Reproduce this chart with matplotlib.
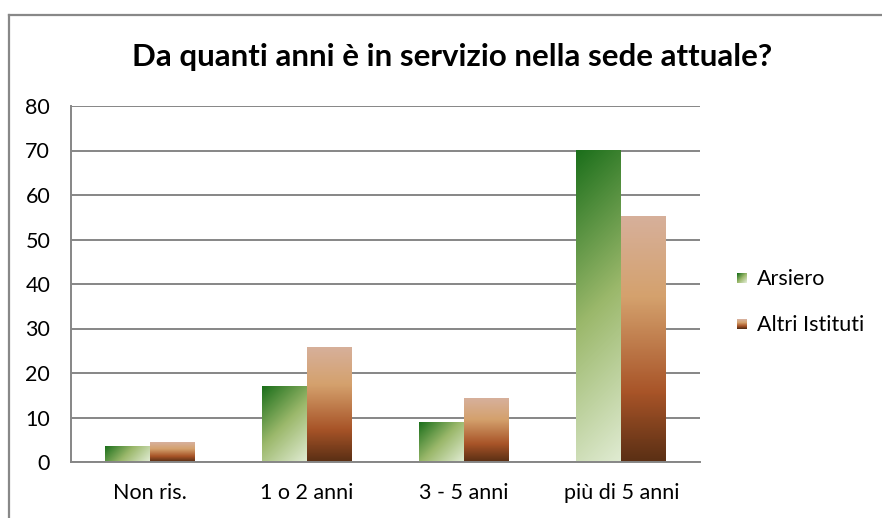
import numpy as np
import matplotlib
matplotlib.use("Agg")
import matplotlib.pyplot as plt
from matplotlib.colors import LinearSegmentedColormap

plt.rcParams['font.family'] = ['Lato', 'DejaVu Sans']

# dati
categorie = ["Non ris.", "1 o 2 anni", "3 - 5 anni", "più di 5 anni"]
arsiero = [3.7, 17.0, 9.1, 70.1]
altri_istituti = [4.4, 25.9, 14.3, 55.3]
serie = ["Arsiero", "Altri Istituti"]
titolo = "Da quanti anni è in servizio nella sede attuale?"

# sfumature stile Excel
cm_verde = LinearSegmentedColormap.from_list(
    "verde", [(0, "#1b6f1b"), (0.5, "#9bb86b"), (1, "#e0ebd2")])
cm_arancio = LinearSegmentedColormap.from_list(
    "arancio", [(0, "#d7b09b"), (0.33, "#d4a16d"), (0.72, "#a85428"), (1, "#5a2f14")])


def img_verde(wpx, hpx):
    # gradiente diagonale (in pixel) da alto-sinistra a basso-destra
    xx, yy = np.meshgrid(np.arange(wpx), np.arange(hpx))
    t = (xx + yy) / max(wpx + hpx - 2, 1)
    return cm_verde(t)


def img_arancio(wpx, hpx):
    xx, yy = np.meshgrid(np.arange(wpx), np.arange(hpx))
    t = yy / max(hpx - 1, 1)
    return cm_arancio(t)


fig = plt.figure(figsize=(8.82, 5.18), dpi=100)
ax = fig.add_axes([71 / 882, 1 - 462 / 518, (700 - 71) / 882, (462 - 106) / 518])

x = np.arange(len(categorie))
w = 1 / 3.5
ax.set_xlim(-0.5, len(categorie) - 0.5)
ax.set_ylim(0, 80)

bars_v = ax.bar(x - w / 2, arsiero, w, color="none", linewidth=0)
bars_a = ax.bar(x + w / 2, altri_istituti, w, color="none", linewidth=0)

px_x = ax.transData.transform((1, 0))[0] - ax.transData.transform((0, 0))[0]
px_y = ax.transData.transform((0, 1))[1] - ax.transData.transform((0, 0))[1]

for bars, fn in [(bars_v, img_verde), (bars_a, img_arancio)]:
    for b in bars:
        x0, h = b.get_x(), b.get_height()
        wpx = max(int(round(w * px_x)), 2)
        hpx = max(int(round(h * px_y)), 2)
        im = ax.imshow(fn(wpx, hpx), extent=[x0, x0 + w, 0, h], origin="upper",
                       aspect="auto", interpolation="bilinear", zorder=2)
        im.set_clip_path(b)

ax.set_xlim(-0.5, len(categorie) - 0.5)
ax.set_ylim(0, 80)

ax.set_yticks(range(0, 81, 10))
ax.yaxis.grid(True, color="#868686", linewidth=1.4)
ax.set_axisbelow(True)
ax.set_xticks(x)
ax.set_xticklabels(categorie, fontsize=15.5)
ax.tick_params(axis="x", length=0, pad=15)
ax.tick_params(axis="y", length=0, pad=15, labelsize=15.5)
for s in ["top", "right"]:
    ax.spines[s].set_visible(False)
for s in ["left", "bottom"]:
    ax.spines[s].set_color("#868686")
    ax.spines[s].set_linewidth(1.4)

fig.text(452 / 882, 1 - 57 / 518, titolo, ha="center", va="center",
         fontsize=22.5, fontweight="bold")

# legenda manuale
for i, (nome, fn) in enumerate(zip(serie, [img_verde, img_arancio])):
    yc = 278 + i * 46
    lax = fig.add_axes([737 / 882, 1 - (yc + 5) / 518, 10 / 882, 10 / 518])
    lax.imshow(fn(10, 10), aspect="auto", interpolation="bilinear")
    lax.axis("off")
    fig.text(757 / 882, 1 - (yc + 1) / 518, nome, ha="left", va="center", fontsize=15.5)

# cornice del grafico
fig.add_artist(plt.Line2D([8.5 / 882, 8.5 / 882], [0, 1 - 15 / 518], color="#888888",
                          linewidth=1.6, transform=fig.transFigure))
fig.add_artist(plt.Line2D([8.5 / 882, 1], [1 - 15 / 518, 1 - 15 / 518], color="#888888",
                          linewidth=1.6, transform=fig.transFigure))

fig.savefig("out.png", dpi=100)
